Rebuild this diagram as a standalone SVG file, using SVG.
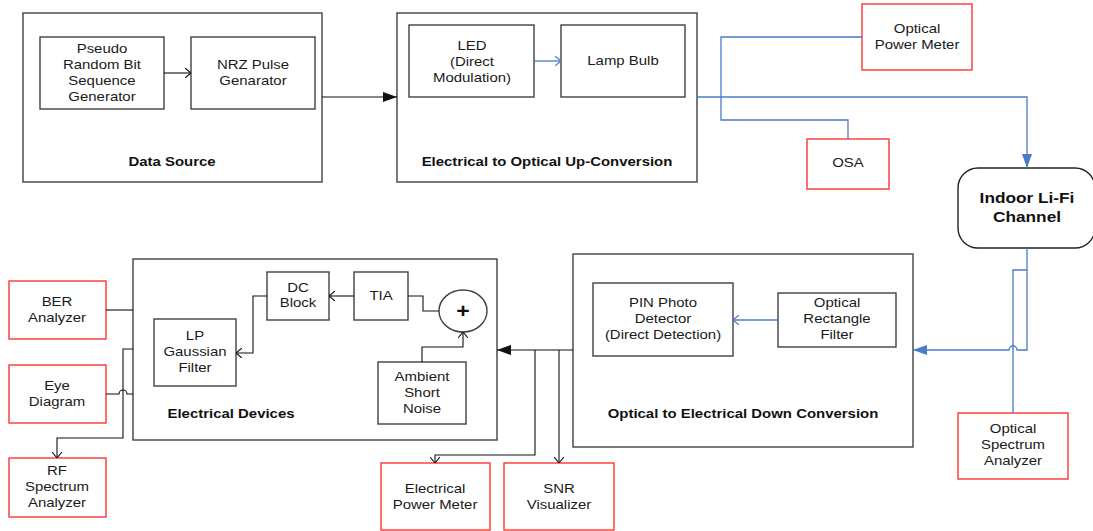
<svg xmlns="http://www.w3.org/2000/svg" width="1093" height="531" viewBox="0 0 1093 531">
<style>
.box{fill:#fff;stroke:#404040;stroke-width:1.4}
.red{fill:#fff;stroke:#ff3535;stroke-width:1.4}
.t{font-family:"Liberation Sans",Arial,sans-serif;font-size:13px;fill:#1a1a1a;text-anchor:middle}
.b{font-family:"Liberation Sans",Arial,sans-serif;font-size:13px;font-weight:bold;fill:#111;text-anchor:middle}
.big{font-family:"Liberation Sans",Arial,sans-serif;font-size:15px;font-weight:bold;fill:#111;text-anchor:middle}
.k{fill:none;stroke:#111;stroke-width:1.1}
.bl{fill:none;stroke:#4a7ac8;stroke-width:1.3}
</style>
<defs>
<marker id="fk" viewBox="0 0 14 10" markerWidth="14" markerHeight="10" refX="14" refY="5" orient="auto" markerUnits="userSpaceOnUse"><path d="M0,0 L14,5 L0,10 z" fill="#111"/></marker>
<marker id="fb" viewBox="0 0 14 10" markerWidth="14" markerHeight="10" refX="14" refY="5" orient="auto" markerUnits="userSpaceOnUse"><path d="M0,0 L14,5 L0,10 z" fill="#4a7ac8"/></marker>
<marker id="ok" viewBox="0 0 6 10" markerWidth="6" markerHeight="10" refX="6" refY="5" orient="auto" markerUnits="userSpaceOnUse"><path d="M0,0 L6,5 L0,10" fill="none" stroke="#111" stroke-width="1.1"/></marker>
<marker id="ob" viewBox="0 0 6 10" markerWidth="6" markerHeight="10" refX="6" refY="5" orient="auto" markerUnits="userSpaceOnUse"><path d="M0,0 L6,5 L0,10" fill="none" stroke="#4a7ac8" stroke-width="1.2"/></marker>
</defs>

<g id="data-source">
<rect class="box" x="23" y="13" width="299" height="169"/>
<text class="b" transform="translate(172,0) scale(1.15,1)"><tspan x="0" y="166">Data Source</tspan></text>
</g>
<g id="prbs">
<rect class="box" x="40" y="37" width="124" height="72"/>
<text class="t" transform="translate(102,0) scale(1.15,1)"><tspan x="0" y="53.5">Pseudo</tspan><tspan x="0" y="69.5">Random Bit</tspan><tspan x="0" y="85.5">Sequence</tspan><tspan x="0" y="101.5">Generator</tspan></text>
</g>
<g id="nrz">
<rect class="box" x="191" y="37" width="124" height="72"/>
<text class="t" transform="translate(253,0) scale(1.15,1)"><tspan x="0" y="69">NRZ Pulse</tspan><tspan x="0" y="85">Genarator</tspan></text>
</g>

<g id="eo-conversion">
<rect class="box" x="397" y="13" width="300" height="169"/>
<text class="b" transform="translate(547,0) scale(1.15,1)"><tspan x="0" y="166.5">Electrical to Optical Up-Conversion</tspan></text>
</g>
<g id="led">
<rect class="box" x="409" y="25" width="125" height="72"/>
<text class="t" transform="translate(472,0) scale(1.15,1)"><tspan x="0" y="50">LED</tspan><tspan x="0" y="66">(Direct</tspan><tspan x="0" y="82">Modulation)</tspan></text>
</g>
<g id="lamp">
<rect class="box" x="561" y="25" width="124" height="72"/>
<text class="t" transform="translate(623,0) scale(1.15,1)"><tspan x="0" y="65.5">Lamp Bulb</tspan></text>
</g>

<g id="opm">
<rect class="red" x="862" y="4" width="110" height="66"/>
<text class="t" transform="translate(917,0) scale(1.15,1)"><tspan x="0" y="33.5">Optical</tspan><tspan x="0" y="49">Power Meter</tspan></text>
</g>
<g id="osa">
<rect class="red" x="807" y="139" width="82" height="50"/>
<text class="t" transform="translate(848,0) scale(1.15,1)"><tspan x="0" y="167.5">OSA</tspan></text>
</g>
<g id="channel">
<rect fill="#fff" stroke="#222" stroke-width="1.4" x="958" y="168" width="137" height="80" rx="20" ry="20"/>
<text class="big" transform="translate(1027,0) scale(1.15,1)"><tspan x="0" y="203.5">Indoor Li-Fi</tspan><tspan x="0" y="222.5">Channel</tspan></text>
</g>

<g id="oe-conversion">
<rect class="box" x="573" y="254" width="340" height="193"/>
<text class="b" transform="translate(743,0) scale(1.15,1)"><tspan x="0" y="418.5">Optical to Electrical Down Conversion</tspan></text>
</g>
<g id="pin">
<rect class="box" x="593" y="283" width="140" height="73"/>
<text class="t" transform="translate(663,0) scale(1.15,1)"><tspan x="0" y="307.5">PIN Photo</tspan><tspan x="0" y="323.5">Detector</tspan><tspan x="0" y="339.5">(Direct Detection)</tspan></text>
</g>
<g id="orf">
<rect class="box" x="778" y="293" width="118" height="54"/>
<text class="t" transform="translate(837,0) scale(1.15,1)"><tspan x="0" y="307.5">Optical</tspan><tspan x="0" y="323.5">Rectangle</tspan><tspan x="0" y="339.5">Filter</tspan></text>
</g>
<g id="optical-spectrum-analyzer">
<rect class="red" x="958" y="413" width="110" height="66"/>
<text class="t" transform="translate(1013,0) scale(1.15,1)"><tspan x="0" y="433.5">Optical</tspan><tspan x="0" y="449.5">Spectrum</tspan><tspan x="0" y="465.5">Analyzer</tspan></text>
</g>

<g id="electrical-devices">
<rect class="box" x="133" y="259" width="364" height="181"/>
<text class="b" transform="translate(231,0) scale(1.15,1)"><tspan x="0" y="418">Electrical Devices</tspan></text>
</g>
<g id="dc-block">
<rect class="box" x="267" y="272" width="62" height="48"/>
<text class="t" transform="translate(298,0) scale(1.15,1)"><tspan x="0" y="292.5">DC</tspan><tspan x="0" y="307.5">Block</tspan></text>
</g>
<g id="tia">
<rect class="box" x="354" y="272" width="54" height="48"/>
<text class="t" transform="translate(381,0) scale(1.15,1)"><tspan x="0" y="300.5">TIA</tspan></text>
</g>
<g id="adder">
<ellipse class="box" cx="463" cy="311" rx="24" ry="21"/>
<text class="b" style="font-size:21px" transform="translate(463,0) scale(1.1,1)"><tspan x="0" y="318.5">+</tspan></text>
</g>
<g id="lp-filter">
<rect class="box" x="154" y="319" width="82" height="67"/>
<text class="t" transform="translate(195,0) scale(1.15,1)"><tspan x="0" y="340.5">LP</tspan><tspan x="0" y="356.5">Gaussian</tspan><tspan x="0" y="372.5">Filter</tspan></text>
</g>
<g id="ambient-noise">
<rect class="box" x="378" y="362" width="88" height="62"/>
<text class="t" transform="translate(422,0) scale(1.15,1)"><tspan x="0" y="381.5">Ambient</tspan><tspan x="0" y="397.5">Short</tspan><tspan x="0" y="413">Noise</tspan></text>
</g>

<g id="ber">
<rect class="red" x="9" y="281" width="97" height="58"/>
<text class="t" transform="translate(57,0) scale(1.15,1)"><tspan x="0" y="306.5">BER</tspan><tspan x="0" y="322.5">Analyzer</tspan></text>
</g>
<g id="eye">
<rect class="red" x="9" y="365" width="97" height="58"/>
<text class="t" transform="translate(57,0) scale(1.15,1)"><tspan x="0" y="390.5">Eye</tspan><tspan x="0" y="406.5">Diagram</tspan></text>
</g>
<g id="rf">
<rect class="red" x="9" y="458" width="97" height="59"/>
<text class="t" transform="translate(57,0) scale(1.15,1)"><tspan x="0" y="475.5">RF</tspan><tspan x="0" y="491.5">Spectrum</tspan><tspan x="0" y="507.5">Analyzer</tspan></text>
</g>
<g id="epm">
<rect class="red" x="381" y="463" width="109" height="67"/>
<text class="t" transform="translate(435,0) scale(1.15,1)"><tspan x="0" y="493.5">Electrical</tspan><tspan x="0" y="509">Power Meter</tspan></text>
</g>
<g id="snr">
<rect class="red" x="504" y="463" width="110" height="67"/>
<text class="t" transform="translate(559,0) scale(1.15,1)"><tspan x="0" y="493.5">SNR</tspan><tspan x="0" y="509">Visualizer</tspan></text>
</g>

<g id="connectors">
<path class="k" d="M164,73 H191" marker-end="url(#ok)"/>
<path class="k" d="M322,97 H397" marker-end="url(#fk)"/>
<path class="bl" d="M534,61 H561" marker-end="url(#ob)"/>
<path class="bl" d="M697,97 H1027 V168" marker-end="url(#fb)"/>
<path class="bl" d="M721,97 V37 H862"/>
<path class="bl" d="M721,97 V120 H848 V139"/>
<path class="bl" d="M1027,248 V350 H1017 A4,4 0 0 0 1009,350 H913" marker-end="url(#fb)"/>
<path class="bl" d="M1027,270 H1013 V413"/>
<path class="bl" d="M778,320 H733" marker-end="url(#ob)"/>
<path class="k" d="M573,350 H497" marker-end="url(#fk)"/>
<path class="k" d="M535,350 V455 H435 V463" marker-end="url(#ok)"/>
<path class="k" d="M559,350 V463" marker-end="url(#ok)"/>
<path class="k" d="M354,296 H329" marker-end="url(#ok)"/>
<path class="k" d="M267,296 H253 V353 H236" marker-end="url(#ok)"/>
<path class="k" d="M439,311 H423 V296 H408"/>
<path class="k" d="M422,362 V347 H463 V332" marker-end="url(#ok)"/>
<path class="k" d="M133,310 H106"/>
<path class="k" d="M133,394 H127 A4,4 0 0 0 119,394 H106"/>
<path class="k" d="M133,349 H123 V438 H57 V458" marker-end="url(#ok)"/>
</g>
</svg>
